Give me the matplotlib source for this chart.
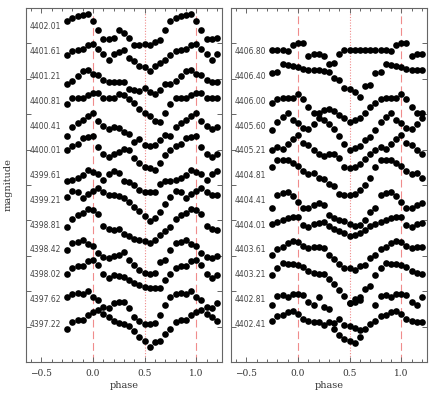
import numpy as np
import matplotlib
matplotlib.use('Agg')
import matplotlib.pyplot as plt
from matplotlib.ticker import MultipleLocator

# phase grid of one cycle, the part up to 0.2 is repeated at +1
phase = np.round(np.arange(-0.25, 0.701, 0.05), 2)

left_labels = ['4402.01', '4401.61', '4401.21', '4400.81', '4400.41', '4400.01', '4399.61',
               '4399.21', '4398.81', '4398.42', '4398.02', '4397.62', '4397.22']
left_dm = [
    [-6, -9, -11, -12, -13, -6, 3, 12, 12, 11, 3, 6, 11, 18, 18, 17, 18, 15, 13, 3],
    [3, -1, -2, -3, -7, -8, -3, 2, 8, 2, 0, -2, 6, 9, 14, 15, 19, 14, 11, 8],
    [7, 4, -1, -6, -7, -3, -2, 3, 5, 5, 5, 5, 12, 13, 14, 11, 15, 17, 13, 7],
    [3, -3, -3, -3, -6, -8, -8, -3, -3, -3, -7, -6, -2, 2, 8, 12, 15, 20, 21, 12],
    [10, 1, -3, -6, -10, -13, -5, 0, 3, 1, 2, 6, 8, 16, 13, 19, 20, 19, 14, 9],
    [-1, -5, -7, -13, -14, -15, -4, 3, 6, 3, 1, -2, -1, 7, 12, 16, 17, 19, 12, 4],
    [5, 4, 2, -1, -6, -4, -2, 4, -2, -5, -3, 5, 6, 9, 14, 16, 16, 16, 8, 5],
    [-3, -9, -8, -2, -6, -9, -12, -8, -5, -5, -4, -2, 2, 7, 11, 16, 21, 18, 12, 4],
    [2, -6, -10, -12, -16, -15, -11, 1, 4, 5, 4, 9, 11, 14, 15, 16, 18, 15, 10, 6],
    [0, -7, -8, -10, -6, -4, 3, 7, 8, 6, 5, 2, 10, 15, 20, 23, 24, 23, 12, 10],
    [-1, -7, -9, -9, -14, -15, -10, -1, 3, 0, 1, 2, 5, 8, 10, 12, 13, 13, 13, 5],
    [-3, -6, -7, -6, -9, -3, 0, 7, 8, 3, 2, 2, 8, 17, 21, 24, 24, 23, 15, 5],
    [5, -2, -4, -4, -9, -12, -14, -10, -7, -3, -1, 0, 2, 7, 13, 17, 23, 18, 17, 10],
]

right_labels = ['4406.80', '4406.40', '4406.00', '4405.60', '4405.21', '4404.81',
                '4404.41', '4404.01', '4403.61', '4403.21', '4402.81', '4402.41']
nan = np.nan
right_dm = [
    [-2, -2, -2, -1, -7, -9, -9, 4, 2, 2, 4, 12, 11, 2, -2, -2, -2, -2, -2, -2],
    [-4, -5, -13, -12, -11, -10, -8, -7, -7, -7, -6, -5, 1, 3, 11, 12, 15, 20, 9, 8],
    [2, -2, -3, -3, -3, -7, -2, 6, 12, 12, 9, 8, 10, 14, 17, 21, 19, 17, 12, 6],
    [4, -4, -9, -13, -6, -3, 2, 3, -2, -8, -6, -2, 3, 10, 18, 24, 22, 20, 14, 11],
    [-1, -4, -2, -7, -12, -16, -8, -6, -1, 3, 5, 3, 3, 7, 16, 17, 16, 13, 8, 3],
    [-9, -16, -16, -16, -13, -10, -5, -2, -3, 2, 3, 8, 10, 18, 19, 19, 18, 14, 9, 2],
    [8, -5, -7, -8, -4, 2, 8, 8, 5, 3, 5, 15, 18, 20, 21, 24, 26, 25, 20, 12],
    [-1, -3, -5, -7, -8, -8, 0, 2, -1, -2, -3, 1, 4, 6, 8, 11, 10, 8, 5, 1],
    [5, -1, -3, -7, -9, -8, -4, -2, -3, -3, -2, 5, 9, 14, 18, 18, 20, 16, 15, 8],
    [0, -7, -12, -11, -11, -10, -8, -4, -2, -1, -1, 4, 9, 15, 21, 28, 24, 22, 14, 11],
    [5, -4, -5, -3, -6, -6, -5, 2, 5, -3, 7, 9, nan, nan, nan, 3, 2, 0, nan, nan],
    [-3, -8, -9, -12, -13, -10, -5, -3, -2, -2, 1, -2, 5, 11, 15, 17, 19, 13, 5, 0],
]
# second run of points in the 4402.41 curve
extra_phase = [0.35, 0.40, 0.45, 0.50, 0.55, 0.60]
extra_dm = [-1, -5, 1, 2, 4, 6]

scale = 0.0141   # mag per unit of the dm lists
step = 0.35      # offset between curves
y0 = 0.268
lc = '#f08c8c'
ms = 4.8

fig = plt.figure(figsize=(4.36, 4.03), dpi=100)
ax1 = fig.add_axes([26/436, 41/403, 196/436, 354/403])
ax2 = fig.add_axes([231/436, 41/403, 196/436, 354/403])


def draw(ax, labels, dms, first):
    wrap = phase <= 0.2
    x = np.concatenate([phase, phase[wrap] + 1])
    for i, (lab, dm) in enumerate(zip(labels, dms)):
        base = y0 + step * (first + i)
        m = base + scale * np.array(dm, float)
        y = np.concatenate([m, m[wrap]])
        ax.plot(x, y, 'o', color='black', ms=ms, mew=0, zorder=3)
        ax.text(-0.618, base, lab, fontsize=5.5, color='#444444', va='center',
                ha='left', family='DejaVu Sans', zorder=4)


draw(ax1, left_labels, left_dm, 0)
draw(ax2, right_labels, right_dm, 1)
base = y0 + step * 12
ax2.plot(extra_phase, base + scale * np.array(extra_dm, float), 'o', color='black',
         ms=ms, mew=0, zorder=3)

for ax in (ax1, ax2):
    ax.axvline(0.0, color=lc, lw=0.8, dashes=(7, 3.5), zorder=1)
    ax.axvline(0.5, color=lc, lw=0.8, dashes=(1, 1.5), zorder=1)
    ax.axvline(1.0, color=lc, lw=0.8, dashes=(7, 3.5), zorder=1)
    ax.set_xlim(-0.65, 1.25)
    ax.set_ylim(5.0, 0.0)
    ax.xaxis.set_major_locator(MultipleLocator(0.5))
    ax.xaxis.set_minor_locator(MultipleLocator(0.1))
    ax.yaxis.set_major_locator(MultipleLocator(0.5))
    ax.tick_params(which='both', direction='in', top=True, right=True, color='#666666',
                   width=0.7, labelsize=6.5, labelcolor='#333333', pad=5)
    ax.tick_params(which='major', length=3.5)
    ax.tick_params(which='minor', length=2)
    ax.set_yticklabels([])
    for lab in ax.get_xticklabels():
        lab.set_family('DejaVu Serif')
    for s in ax.spines.values():
        s.set_color('#666666')
        s.set_linewidth(0.8)
    ax.set_xlabel('phase', family='DejaVu Serif', fontsize=7, color='#333333', labelpad=2)

fig.text(8/436, 1 - 185/403, 'magnitude', rotation=90, family='DejaVu Serif', fontsize=7,
         color='#333333', ha='center', va='center')

fig.savefig('out.png', dpi=100)
